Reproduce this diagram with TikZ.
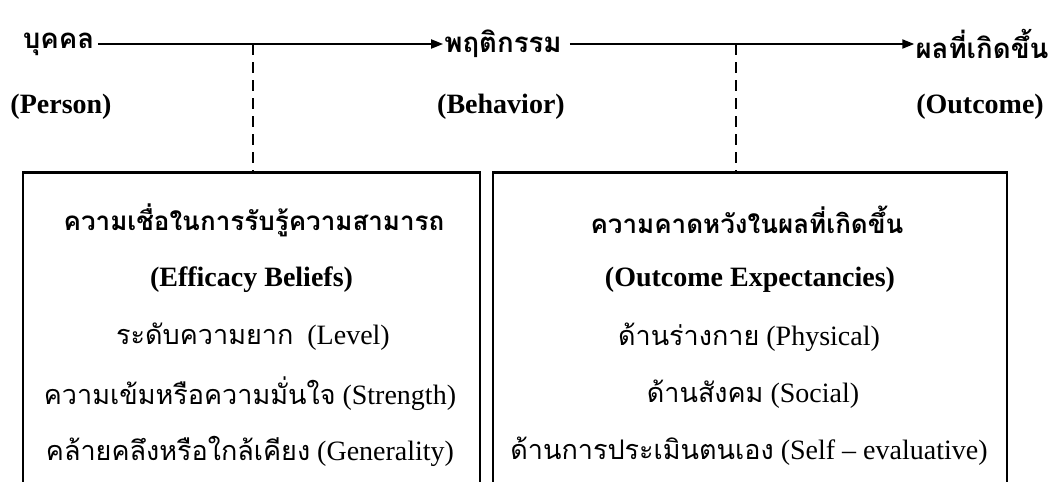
\documentclass[tikz,border=0pt]{standalone}
\usepackage{fontspec}
\setmainfont{Liberation Serif}
\newfontfamily\thai[Script=Thai]{Loma}
\usetikzlibrary{arrows.meta}
\tikzset{
  head/.style={inner sep=0pt, font=\thai\bfseries\fontsize{27.6}{32}\selectfont},
  eng/.style={inner sep=0pt, font=\bfseries\fontsize{28}{32}\selectfont},
  btitle/.style={inner sep=0pt, font=\thai\bfseries\fontsize{26}{30}\selectfont},
  bsub/.style={inner sep=0pt, font=\bfseries\fontsize{28}{32}\selectfont},
  bitem/.style={inner sep=0pt, font=\fontsize{28}{32}\selectfont},
  flow/.style={line width=2pt, -{Triangle[length=12pt,width=9pt]}},
  link/.style={line width=2pt, dash pattern=on 11pt off 7pt},
  panel/.style={draw, line width=2.5pt, inner sep=0pt, anchor=north}
}
\newcommand{\thtext}[1]{{\thai\fontsize{27}{32}\selectfont #1}}
\begin{document}
\begin{tikzpicture}[x=1pt,y=-1pt]
\useasboundingbox (0,0) rectangle (1050,482);
\begin{scope}
\clip (0,0) rectangle (1050,482);
\node[head] (person) at (58.5,44) {บุคคล};
\node[head] (behav) at (503,44) {พฤติกรรม};
\node[head] (outc) at (982,44) {ผลที่เกิดขึ้น};
\node[eng] (personE) at (61,107) {(Person)};
\node[eng] (behavE) at (501,107) {(Behavior)};
\node[eng] (outcE) at (980,107) {(Outcome)};
\draw[flow] ([xshift=4pt]person.east) -- ([xshift=-1pt]behav.west);
\draw[flow] ([xshift=8pt]behav.east) -- ([xshift=-1pt]outc.west);
\node[panel, minimum width=457pt, minimum height=400pt] (effbox) at (251.5,171) {};
\node[panel, minimum width=514pt, minimum height=400pt] (expbox) at (750,171) {};
\coordinate (j1) at (253,44);
\coordinate (j2) at (736,44);
\draw[link] (j1) -- (j1 |- effbox.north);
\draw[link] (j2) -- (j2 |- expbox.north);
\node[btitle] (e1) at (254,220) {ความเชื่อในการรับรู้ความสามารถ};
\node[bsub] (e2) at (251.5,280) {(Efficacy Beliefs)};
\node[bitem] (e3) at (253,337) {\thtext{ระดับความยาก}\ \ (Level)};
\node[bitem] (e4) at (250,394) {\thtext{ความเข้มหรือความมั่นใจ} (Strength)};
\node[bitem] (e5) at (250,451) {\thtext{คล้ายคลึงหรือใกล้เคียง} (Generality)};
\node[btitle] (x1) at (747,220) {ความคาดหวังในผลที่เกิดขึ้น};
\node[bsub] (x2) at (750,280) {(Outcome Expectancies)};
\node[bitem] (x3) at (749,337) {\thtext{ด้านร่างกาย} (Physical)};
\node[bitem] (x4) at (753,394) {\thtext{ด้านสังคม} (Social)};
\node[bitem] (x5) at (749,451) {\thtext{ด้านการประเมินตนเอง} (Self – evaluative)};
\end{scope}
\end{tikzpicture}
\end{document}
